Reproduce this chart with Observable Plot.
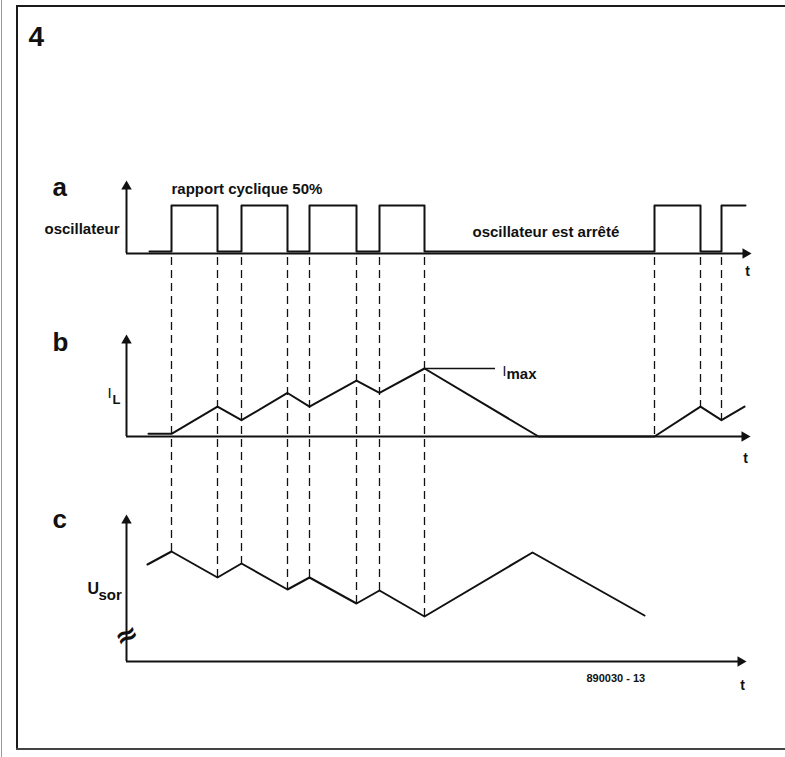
<!DOCTYPE html>
<html>
<head>
<meta charset="utf-8">
<script src="https://cdn.jsdelivr.net/npm/d3@7"></script>
<script src="https://cdn.jsdelivr.net/npm/@observablehq/plot@0.6"></script>
<style>
  html, body { margin: 0; padding: 0; background: #fff; }
  #wrap { position: relative; width: 785px; height: 757px; overflow: hidden; background: #fff; }
  #wrap svg { position: absolute; left: 0; top: 0; }
  .edge { position: absolute; background: #1a1a1a; }
</style>
</head>
<body>
<div id="wrap">
  <div class="edge" style="left:1px;top:0;width:1px;height:757px;background:#9a9a9a"></div>
  <div class="edge" style="left:16px;top:5px;width:2px;height:745px"></div>
  <div class="edge" style="left:16px;top:5px;width:769px;height:2px"></div>
  <div class="edge" style="left:16px;top:748px;width:769px;height:2px;background:#444"></div>
</div>
<script>
// ---------------- data (time in arbitrary units) ----------------
const figureNumber = "4";
const panelLabels = ["a", "b", "c"];
const annotations = ["oscillateur", "rapport cyclique 50%", "oscillateur est arrêté"];
const timeLabel = "t";
const iLLabel = ["I", "L"];
const iMaxLabel = ["I", "max"];
const uLabel = ["U", "sor"];
const refCode = "890030 - 13";

// a: oscillator output (step after each time)
const oscTimes  = [23, 45, 91, 115, 161, 183, 230, 253, 298, 528, 574, 595, 619];
const oscLevels = [0, 1, 0, 1, 0, 1, 0, 1, 0, 1, 0, 1, 1];
// b: inductor current i_L
const iLTimes  = [22, 45, 91, 115, 161, 183, 230, 253, 298, 412, 528, 574, 595, 618];
const iLValues = [0.2, 0.2, 2.2, 1.2, 3.2, 2.2, 4.1, 3.2, 5, 0, 0, 2.2, 1.2, 2.2];
const iMax = 5;
// c: output voltage U_sor
const uTimes  = [21, 45, 91, 115, 161, 183, 230, 253, 298, 406, 518];
const uValues = [9.7, 11, 8.4, 9.8, 7.2, 8.4, 5.8, 7.1, 4.5, 10.9, 4.6];
// dashed synchronisation lines (oscillator edges)
const syncTimes = [45, 91, 115, 161, 183, 230, 253, 298, 528, 574, 595];

// ---------------- layout ----------------
const ink = "#111";
const font = "'Liberation Sans', Arial, Helvetica, sans-serif";
const P = {
  a: {base: 253, unit: 48,   top: 178, end: 627, labelY: 195, tX: 621, tY: 275},
  b: {base: 436, unit: 13.6, top: 332, end: 626, labelY: 350, tX: 619, tY: 462},
  c: {base: 661, unit: 10,   top: 512, end: 622, labelY: 527, tX: 616, tY: 689}
};
const figY = (p, v) => p.base - v * p.unit;
const panelRows = panelLabels.map(k => ({k, ...P[k]}));

const oscRows = oscTimes.map((t, i) => ({t, y: figY(P.a, oscLevels[i] ? oscLevels[i] : 0.04)}));
const iLRows = iLTimes.map((t, i) => ({t, y: figY(P.b, iLValues[i])}));
const uRows = uTimes.map((t, i) => ({t, y: figY(P.c, uValues[i])}));
const syncRows = syncTimes.map(t => {
  const ui = uTimes.indexOf(t);
  const y2 = ui >= 0 ? figY(P.c, uValues[ui]) : figY(P.b, iLValues[iLTimes.indexOf(t)]);
  return {t, y1: P.a.base + 4, y2};
});
const imaxT = iLTimes[iLValues.indexOf(iMax)];

const txt = (s, x, y, o = {}) => Plot.text([s], {
  x, y, text: d => d, fill: ink, fontFamily: font, lineAnchor: "bottom",
  textAnchor: "start", fontWeight: "bold", fontSize: 15, ...o
});

const chart = Plot.plot({
  width: 785, height: 757, margin: 0,
  x: {type: "linear", domain: [0, 628], range: [126, 754], axis: null},
  y: {type: "linear", domain: [0, 757], range: [0, 757], axis: null},
  style: {background: "transparent", overflow: "visible", fontFamily: font},
  marks: [
    // dashed sync lines
    Plot.ruleX(syncRows, {x: "t", y1: "y1", y2: "y2", stroke: ink, strokeWidth: 1.3, strokeDasharray: "8,5"}),
    // axes
    Plot.ruleX(panelRows, {x: 0, y1: "base", y2: d => d.top + 6, stroke: ink, strokeWidth: 2}),
    Plot.ruleY(panelRows, {y: "base", x1: 0, x2: d => d.end - 6, stroke: ink, strokeWidth: 2}),
    Plot.dot(panelRows, {x: 0, y: d => d.top + 8, symbol: "triangle2", r: 5, fill: ink, stroke: null}),
    Plot.dot(panelRows, {x: d => d.end - 8, y: "base", symbol: "triangle2", r: 5, rotate: 90, fill: ink, stroke: null}),
    // waveforms
    Plot.line(oscRows, {x: "t", y: "y", curve: "step-after", stroke: ink, strokeWidth: 2}),
    Plot.line(iLRows, {x: "t", y: "y", stroke: ink, strokeWidth: 2}),
    Plot.line(uRows, {x: "t", y: "y", stroke: ink, strokeWidth: 2}),
    // Imax leader
    Plot.ruleY([iMax], {y: d => figY(P.b, d), x1: imaxT, x2: imaxT + 71, stroke: ink, strokeWidth: 1.3}),
    // texts
    txt(figureNumber, -98, 45, {fontSize: 28}),
    ...panelRows.map(p => txt(p.k, -74, p.labelY, {fontSize: 26})),
    ...panelRows.map(p => txt(timeLabel, p.tX, p.tY, {fontSize: 14, textAnchor: "middle"})),
    txt(annotations[0], -82, 233),
    txt(annotations[1], 45, 193),
    txt(annotations[2], 346, 236),
    txt(iLLabel[0], -19, 397, {fontWeight: "normal", fontSize: 15}),
    txt(iLLabel[1], -14, 403, {fontSize: 13}),
    txt(iMaxLabel[0], 376, 375, {fontWeight: "normal", fontSize: 14}),
    txt(iMaxLabel[1], 380, 378, {fontSize: 15}),
    txt(uLabel[0], -39, 593, {fontSize: 16}),
    txt(uLabel[1], -28, 599, {fontSize: 15}),
    txt(refCode, 460, 681, {fontSize: 11}),
    Plot.text(["≈"], {x: 0, y: 635, text: d => d, fill: ink, fontSize: 28, fontWeight: "bold", rotate: -25, fontFamily: "DejaVu Sans"})
  ]
});
document.getElementById("wrap").appendChild(chart);
</script>
</body>
</html>
